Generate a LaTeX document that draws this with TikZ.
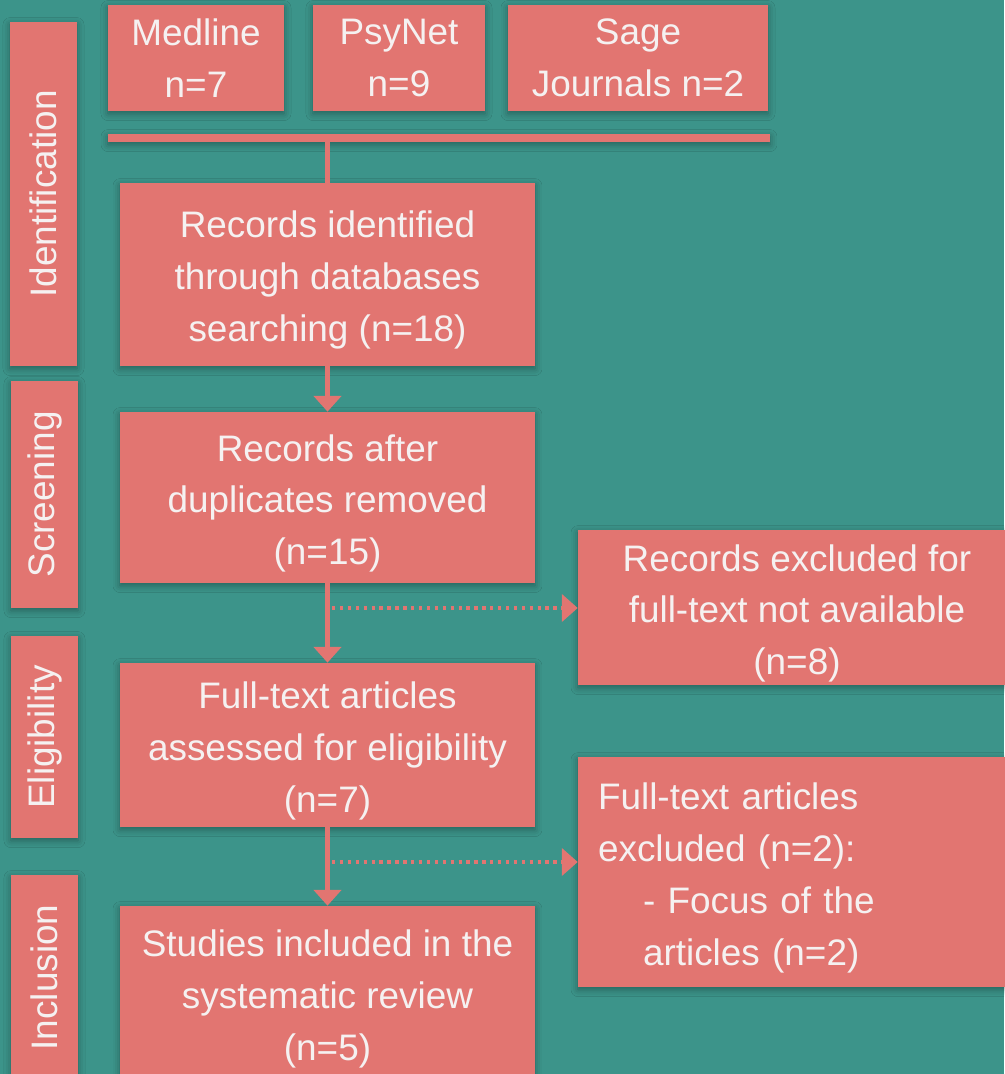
\documentclass[tikz,border=0pt]{standalone}
\usepackage{fontspec}
\setmainfont{Liberation Sans}
\usetikzlibrary{arrows.meta,shadows.blur}
\definecolor{bgteal}{RGB}{60,148,138}
\definecolor{coral}{RGB}{226,117,113}
\definecolor{paper}{RGB}{245,241,241}
\newcommand{\topgap}{\rule{0pt}{21.8pt}}
\tikzset{
  box/.style={fill=coral, text=paper, align=center, inner sep=0pt,
    blur shadow={shadow xshift=0pt, shadow yshift=-1.5pt, shadow blur radius=4pt, shadow opacity=35},
    font=\fontsize{21}{29.5}\selectfont},
  stage/.style={box, rotate=90, minimum height=1.34cm},
  link/.style={draw=coral, line width=2.3pt},
  flow/.style={link, -{Triangle[width=15.5pt,length=9pt]}},
  skip/.style={flow, line width=1.8pt, dash pattern=on 1.9pt off 2.6pt},
}
\begin{document}
\begin{tikzpicture}[x=0.02cm,y=-0.02cm]
\fill[bgteal] (0,0) rectangle (1004,1074);
\useasboundingbox (0,0) rectangle (1004,1074);

\node[box, minimum width=3.52cm, minimum height=2.12cm] (medline) at (196,58) {Medline\\n=7};
\node[box, minimum width=3.44cm, minimum height=2.12cm] (psynet) at (399,58) {PsyNet\\n=9};
\node[box, minimum width=5.2cm, minimum height=2.12cm] (sage) at (638,58) {Sage\\Journals n=2};
\node[box, minimum width=13.24cm, minimum height=0.16cm] (bar) at (439,138) {};

\node[box, minimum width=8.3cm, minimum height=3.66cm] (found) at (327.5,274.5) {\topgap Records identified\\through databases\\searching (n=18)};
\node[box, minimum width=8.3cm, minimum height=3.42cm] (dedup) at (327.5,497.5) {\topgap Records after\\duplicates removed\\(n=15)};
\node[box, minimum width=8.3cm, minimum height=3.28cm] (assessed) at (327.5,745) {\topgap Full-text articles\\assessed for eligibility\\(n=7)};
\node[box, minimum width=8.3cm, minimum height=3.48cm] (included) at (327.5,993) {\topgap Studies included in the\\systematic review\\(n=5)};

\node[box, minimum width=8.76cm, minimum height=3.1cm] (nofull) at (797,607.5) {\topgap Records excluded for\\full-text not available\\(n=8)};
\node[box, minimum width=8.76cm, minimum height=4.6cm, align=left, text width=7.96cm] (offtopic) at (797,872) {\topgap Full-text articles\\excluded (n=2):\\\hspace*{0.9cm}- Focus of the\\\hspace*{0.9cm}articles (n=2)};

\node[stage, minimum width=6.88cm] (ident) at (43.5,194) {Identification};
\node[stage, minimum width=4.54cm] (screen) at (44.5,494.5) {Screening};
\node[stage, minimum width=4.04cm] (elig) at (44.5,737) {Eligibility};
\node[stage, minimum width=4.1cm] (incl) at (44.5,977.5) {Inclusion};

\draw[link] (found.north |- bar.south) -- (found.north);
\draw[flow] (found.south) -- (dedup.north);
\draw[flow] (dedup.south) -- (assessed.north);
\draw[flow] (assessed.south) -- (included.north);

\coordinate (split1) at (332,608);
\coordinate (split2) at (332,862);
\draw[skip] (split1) -- (split1 -| nofull.west);
\draw[skip] (split2) -- (split2 -| offtopic.west);
\end{tikzpicture}
\end{document}
